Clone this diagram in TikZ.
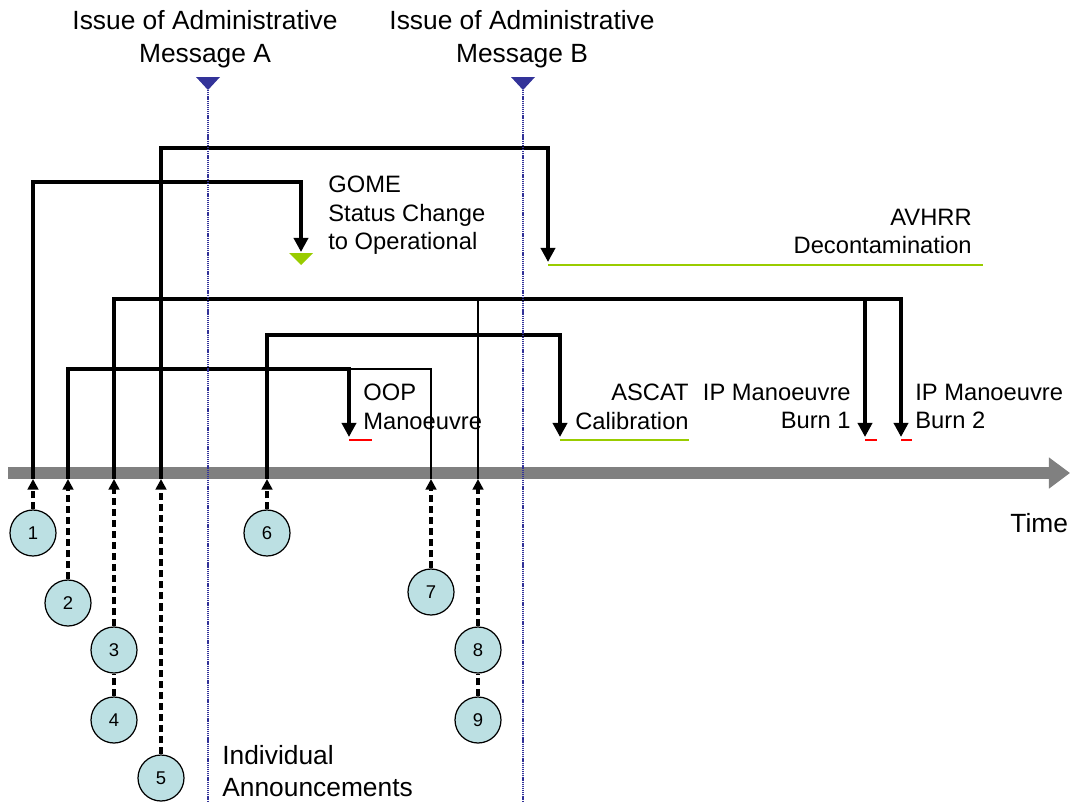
\documentclass[tikz,border=0pt]{standalone}
\usepackage{fontspec}
\setmainfont{Liberation Sans}
\usepackage{tikz}
\usetikzlibrary{arrows.meta}
\definecolor{axisgray}{HTML}{808080}
\definecolor{msgblue}{HTML}{333399}
\definecolor{okgreen}{HTML}{99CC00}
\definecolor{burnred}{HTML}{FF0000}
\definecolor{annfill}{HTML}{BCE0E3}
\tikzset{
  lab/.style={font=\fontsize{13.5}{16}\selectfont, inner sep=0pt},
  head/.style={font=\fontsize{15}{18.7}\selectfont, inner sep=0pt, align=center},
  num/.style={circle, draw, fill=annfill, minimum size=0.92cm, inner sep=0pt, line width=0.7pt, font=\fontsize{10.5}{12}\selectfont},
  link/.style={line width=2pt, -{Triangle[width=8pt,length=8pt]}},
  thinLink/.style={line width=0.7pt},
  annLine/.style={line width=2pt, dash pattern=on 4pt off 2.3pt},
  annArrow/.style={annLine, -{Triangle[width=6pt,length=6pt]}},
  msgLine/.style={line width=1.5pt, draw=msgblue, dash pattern=on 0.7pt off 0.5pt},
  timeAxis/.style={line width=6.8pt, draw=axisgray, -{Triangle[width=17pt,length=12pt]}},
  okLine/.style={line width=1.1pt, draw=okgreen},
  redLine/.style={line width=1.1pt, draw=burnred}
}

\begin{document}
\begin{tikzpicture}[x=0.02cm,y=-0.02cm]
\useasboundingbox (0,0) rectangle (1070,801);
\draw[timeAxis] (8,473) -- (1070,473);

\coordinate (t1) at (33,479);
\coordinate (t2) at (68,479);
\coordinate (t3) at (114,479);
\coordinate (t5) at (161,479);
\coordinate (t6) at (267,479);
\coordinate (t7) at (431,479);
\coordinate (t8) at (478,479);
\coordinate (h1) at (33,182);
\coordinate (h2) at (68,369);
\coordinate (h3) at (114,299);
\coordinate (h5) at (161,148);
\coordinate (h6) at (267,335);
\coordinate (gome) at (301,252);
\coordinate (avhrr) at (548,262);
\coordinate (oop) at (349,437);
\coordinate (ascat) at (560,437);
\coordinate (burn1) at (865,437);
\coordinate (burn2) at (901,437);

\draw[thinLink] (t7) |- (oop |- h2);
\draw[thinLink] (t8) -- (t8 |- h3);
\draw[link] (t1) -- (h1) -| (gome);
\draw[link] (t5) -- (h5) -| (avhrr);
\draw[link] (t3) -- (h3) -| (burn2);
\draw[link] (h3 -| burn1) -- (burn1);
\draw[link] (t6) -- (h6) -| (ascat);
\draw[link] (t2) -- (h2) -| (oop);

\fill[okgreen] (289,253) -- (313,253) -- (301,265) -- cycle;
\draw[okLine] (548,265) -- (983,265);
\draw[okLine] (560,440) -- (689,440);
\draw[redLine] (349,440) -- (372,440);
\draw[redLine] (865,440) -- (877,440);
\draw[redLine] (901,440) -- (912,440);

\foreach \n/\x/\y in {1/33/533, 2/68/603, 3/114/650, 4/114/720, 5/161/778,
                      6/267/533, 7/431/592, 8/478/650, 9/478/720}
  \node[num] (c\n) at (\x,\y) {\n};
\draw[annArrow] (c1) -- (t1);
\draw[annArrow] (c2) -- (t2);
\draw[annArrow] (c3) -- (t3);
\draw[annLine] (c4) -- (c3);
\draw[annArrow] (c5) -- (t5);
\draw[annArrow] (c6) -- (t6);
\draw[annArrow] (c7) -- (t7);
\draw[annArrow] (c8) -- (t8);
\draw[annLine] (c9) -- (c8);

\node[lab, anchor=north west, align=left] (gomeL) at (328,176) {GOME\\Status Change\\to Operational};
\node[lab, anchor=north east, align=right] (avhrrL) at (972,209) {AVHRR\\Decontamination};
\node[lab, anchor=north west, align=left] (oopL) at (363,384) {OOP\\Manoeuvre};
\node[lab, anchor=north east, align=right] (ascatL) at (689,384) {ASCAT\\Calibration};
\node[lab, anchor=north east, align=right] (burn1L) at (851,384) {IP Manoeuvre\\Burn 1};
\node[lab, anchor=north west, align=left] (burn2L) at (915,384) {IP Manoeuvre\\Burn 2};
\node[head, anchor=west] (timeL) at (1010,523) {Time};
\node[head, anchor=north west, align=left, font=\fontsize{15}{18.1}\selectfont] (indivL) at (222,745) {Individual\\Announcements};

\node[head, anchor=north] (msgA) at (205,10) {Issue of Administrative\\Message A};
\node[head, anchor=north] (msgB) at (522,10) {Issue of Administrative\\Message B};
\coordinate (mA) at (208,90);
\coordinate (mB) at (523,90);
\draw[msgLine] (mA) -- (mA |- 0,801);
\draw[msgLine] (mB) -- (mB |- 0,801);
\fill[msgblue] (mA) -- ++(-12,-13) -- ++(24,0) -- cycle;
\fill[msgblue] (mB) -- ++(-12,-13) -- ++(24,0) -- cycle;
\end{tikzpicture}
\end{document}
